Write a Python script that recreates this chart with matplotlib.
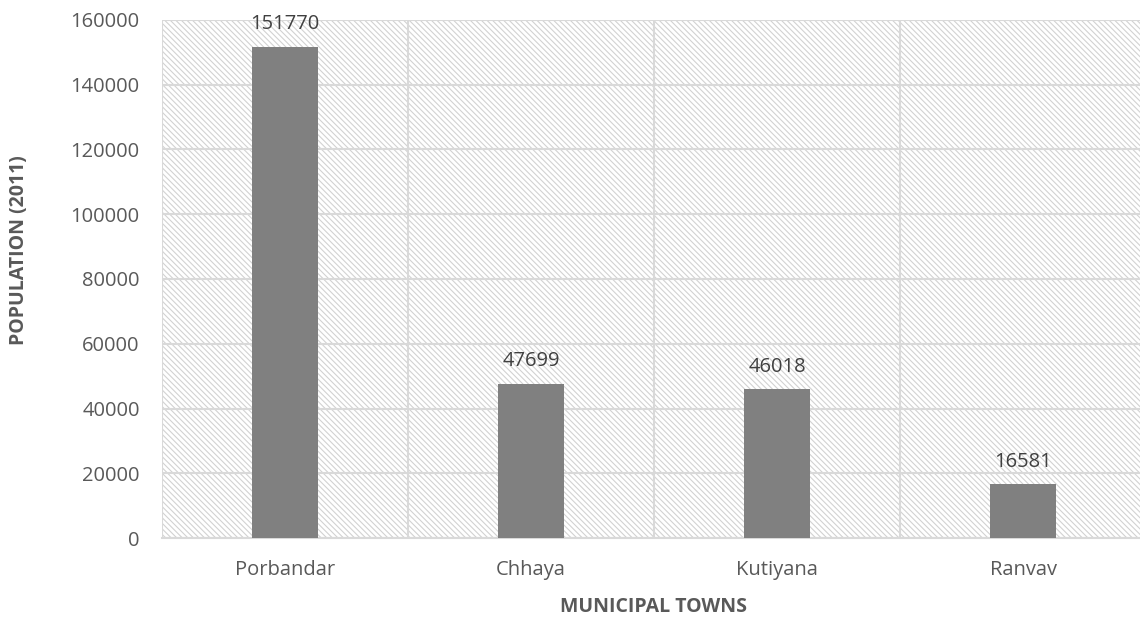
import matplotlib
matplotlib.use("Agg")
import matplotlib.pyplot as plt
from matplotlib.ticker import FixedLocator

towns = ["Porbandar", "Chhaya", "Kutiyana", "Ranvav"]
population = [151770, 47699, 46018, 16581]
y_ticks = [0, 20000, 40000, 60000, 80000, 100000, 120000, 140000, 160000]

plt.rcParams["font.family"] = ["Open Sans", "DejaVu Sans"]
plt.rcParams["hatch.linewidth"] = 0.8
plt.rcParams["hatch.color"] = "#d2d2d2"

text_color = "#595959"
grid_color = "#d9d9d9"

fig = plt.figure(figsize=(11.4, 6.2), dpi=100)
ax = fig.add_axes([162 / 1140, 1 - 538 / 620, 984 / 1140, 518 / 620])

# hatched plot-area background
ax.patch.set_facecolor("white")
ax.patch.set_hatch("\\\\\\\\\\\\")
ax.patch.set_edgecolor("#d2d2d2")
ax.patch.set_linewidth(0)

x = list(range(len(towns)))
bars = ax.bar(x, population, width=0.27, color="#808080", zorder=3)

for xi, val in zip(x, population):
    ax.annotate(f"{val}", (xi, val), xytext=(0, 9), textcoords="offset points",
                ha="center", va="bottom", fontsize=14.5, color="#404040",
                annotation_clip=False, zorder=4)

ax.set_xlim(-0.5, len(towns) - 0.5)
ax.set_ylim(0, 160000)
ax.set_yticks(y_ticks)
ax.set_yticklabels([str(t) for t in y_ticks])
ax.set_xticks(x)
ax.set_xticklabels(towns)
ax.xaxis.set_minor_locator(FixedLocator([i - 0.5 for i in range(len(towns) + 1)]))

ax.grid(axis="y", which="major", color=grid_color, linewidth=1.5, zorder=1)
ax.grid(axis="x", which="minor", color=grid_color, linewidth=1.5, zorder=1)
ax.set_axisbelow(True)

for side in ["top", "right", "left"]:
    ax.spines[side].set_visible(False)
ax.spines["bottom"].set_color(grid_color)
ax.spines["bottom"].set_linewidth(1.5)

ax.tick_params(axis="both", which="both", length=0, labelsize=14.5, labelcolor=text_color)
ax.tick_params(axis="y", pad=16)
ax.tick_params(axis="x", pad=16)

fig.text(654 / 1140, 1 - 607 / 620, "MUNICIPAL TOWNS", fontsize=14, fontweight="bold",
         color=text_color, ha="center", va="center")
fig.text(19 / 1140, 1 - 250 / 620, "POPULATION (2011)", fontsize=14, fontweight="bold",
         color=text_color, ha="center", va="center", rotation=90)

fig.savefig("out.png", dpi=100)
